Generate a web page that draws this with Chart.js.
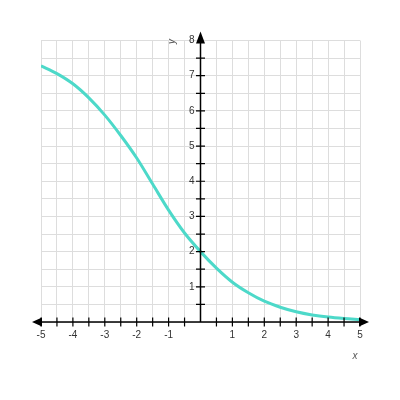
<!DOCTYPE html>
<html>
<head>
<meta charset="utf-8">
<script src="https://cdn.jsdelivr.net/npm/chart.js@4"></script>
<style>
  html, body { margin: 0; padding: 0; background: #fff; }
  canvas { display: block; }
</style>
</head>
<body>
<canvas id="chart" width="400" height="400"></canvas>
<script>
// values
const xValues = [-5, -4.5, -4, -3.5, -3, -2.5, -2, -1.5, -1, -0.5, 0, 0.5, 1, 1.5, 2, 2.5, 3, 3.5, 4, 4.5, 5];
const yValues = [7.28, 7.06, 6.77, 6.37, 5.88, 5.30, 4.66, 3.92, 3.18, 2.53, 2.00, 1.53, 1.13, 0.83, 0.59, 0.42, 0.29, 0.20, 0.14, 0.10, 0.07];
const xTickLabels = [-5, -4, -3, -2, -1, 1, 2, 3, 4, 5];
const yTickLabels = [1, 2, 3, 4, 5, 6, 7, 8];

const points = xValues.map((x, i) => ({ x: x, y: yValues[i] }));

// draws the centred axes, arrows, ticks and labels on top of the grid
const axesPlugin = {
  id: 'centredAxes',
  afterDatasetsDraw(chart) {
    const ctx = chart.ctx;
    const xs = chart.scales.x, ys = chart.scales.y;
    const x0 = xs.getPixelForValue(0), y0 = ys.getPixelForValue(0);
    const left = xs.getPixelForValue(-5), right = xs.getPixelForValue(5);
    const top = ys.getPixelForValue(8);
    ctx.save();
    ctx.strokeStyle = '#000';
    ctx.fillStyle = '#000';
    ctx.lineWidth = 1.5;

    // axis lines
    ctx.beginPath();
    ctx.moveTo(left - 4, y0); ctx.lineTo(right + 4, y0);
    ctx.moveTo(x0, y0); ctx.lineTo(x0, top - 4);
    ctx.stroke();

    // arrow heads
    ctx.beginPath();
    ctx.moveTo(left - 9, y0); ctx.lineTo(left + 1, y0 - 4.5); ctx.lineTo(left + 1, y0 + 4.5); ctx.closePath();
    ctx.moveTo(right + 9, y0); ctx.lineTo(right - 1, y0 - 4.5); ctx.lineTo(right - 1, y0 + 4.5); ctx.closePath();
    ctx.moveTo(x0, top - 9); ctx.lineTo(x0 - 4.5, top + 3); ctx.lineTo(x0 + 4.5, top + 3); ctx.closePath();
    ctx.fill();

    // tick marks every half unit
    ctx.lineWidth = 1.2;
    ctx.beginPath();
    for (let v = -5; v <= 5; v += 0.5) {
      if (v === 0) continue;
      const px = xs.getPixelForValue(v);
      ctx.moveTo(px, y0 - 4.5); ctx.lineTo(px, y0 + 4.5);
    }
    for (let v = 0.5; v <= 7.5; v += 0.5) {
      const py = ys.getPixelForValue(v);
      ctx.moveTo(x0 - 4.5, py); ctx.lineTo(x0 + 4.5, py);
    }
    ctx.stroke();

    // tick labels
    ctx.fillStyle = '#333';
    ctx.font = '10px "Liberation Sans", Arial, sans-serif';
    ctx.textAlign = 'center';
    ctx.textBaseline = 'middle';
    xTickLabels.forEach(v => {
      ctx.fillText(String(v), xs.getPixelForValue(v), y0 + 13);
    });
    ctx.textAlign = 'right';
    yTickLabels.forEach(v => {
      ctx.fillText(String(v), x0 - 6, ys.getPixelForValue(v));
    });

    // axis titles
    ctx.fillStyle = '#555';
    ctx.font = 'italic 10px "Liberation Sans", Arial, sans-serif';
    ctx.textAlign = 'center';
    ctx.fillText('x', right - 5, y0 + 34);
    ctx.save();
    ctx.translate(x0 - 28, top + 1);
    ctx.rotate(-Math.PI / 2);
    ctx.fillText('y', 0, 0);
    ctx.restore();

    ctx.restore();
  }
};

new Chart(document.getElementById('chart'), {
  type: 'scatter',
  data: {
    datasets: [{
      data: points,
      showLine: true,
      borderColor: '#4dd9c9',
      borderWidth: 3,
      pointRadius: 0,
      cubicInterpolationMode: 'monotone',
      fill: false
    }]
  },
  options: {
    responsive: false,
    animation: false,
    layout: { padding: { left: 41, right: 40, top: 40.5, bottom: 78 } },
    plugins: { legend: { display: false }, tooltip: { enabled: false } },
    scales: {
      x: {
        type: 'linear', min: -5, max: 5,
        ticks: { display: false, stepSize: 0.5 },
        grid: { color: '#dddddd', lineWidth: 1, drawTicks: false },
        border: { display: false }
      },
      y: {
        type: 'linear', min: 0, max: 8,
        ticks: { display: false, stepSize: 0.5 },
        grid: { color: '#dddddd', lineWidth: 1, drawTicks: false },
        border: { display: false }
      }
    }
  },
  plugins: [axesPlugin]
});
</script>
</body>
</html>
